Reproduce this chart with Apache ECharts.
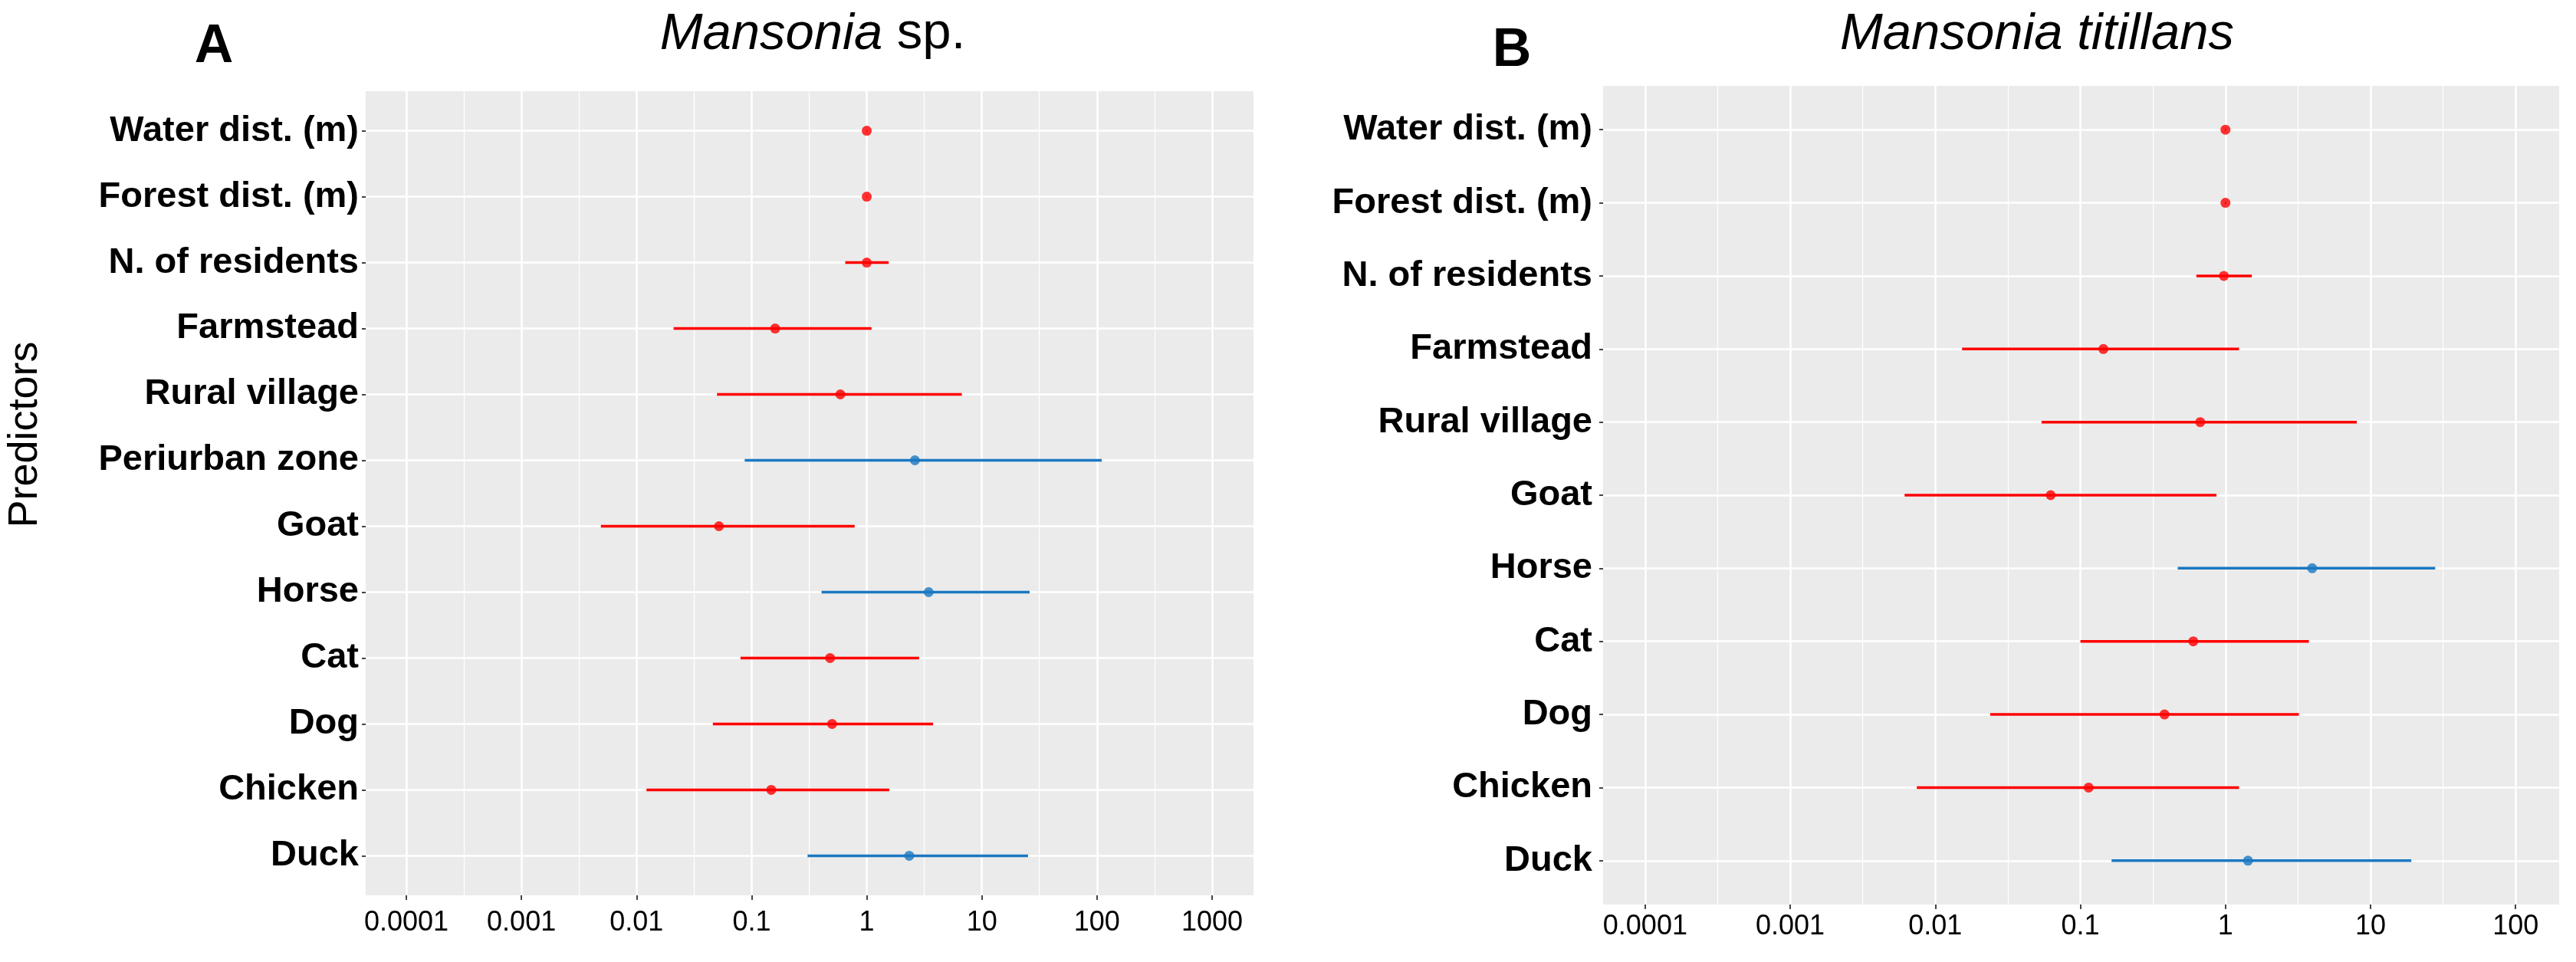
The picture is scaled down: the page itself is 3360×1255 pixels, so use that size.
<!DOCTYPE html>
<html>
<head>
<meta charset="utf-8">
<script src="https://cdn.jsdelivr.net/npm/echarts@6/dist/echarts.min.js"></script>
<style>
html,body{margin:0;padding:0;background:#fff;}
#chart{width:3360px;height:1255px;}
</style>
</head>
<body>
<div id="chart"></div>
<script>
// ---------- data ----------
const categoriesA = ['Water dist. (m)','Forest dist. (m)','N. of residents','Farmstead','Rural village','Periurban zone','Goat','Horse','Cat','Dog','Chicken','Duck'];
const oddsA  = [1.0, 1.0, 1.0, 0.16, 0.59, 2.62, 0.052, 3.45, 0.48, 0.50, 0.148, 2.34];
const lowerA = [0.99, 0.99, 0.65, 0.021, 0.05, 0.087, 0.0049, 0.405, 0.08, 0.046, 0.0122, 0.306];
const upperA = [1.01, 1.01, 1.55, 1.1, 6.7, 110, 0.785, 26, 2.85, 3.77, 1.57, 25.2];
const effectA = ['neg','neg','neg','neg','neg','pos','neg','pos','neg','neg','neg','pos'];

const categoriesB = ['Water dist. (m)','Forest dist. (m)','N. of residents','Farmstead','Rural village','Goat','Horse','Cat','Dog','Chicken','Duck'];
const oddsB  = [1.0, 1.0, 0.975, 0.144, 0.67, 0.0624, 3.96, 0.60, 0.38, 0.114, 1.43];
const lowerB = [0.99, 0.99, 0.63, 0.0153, 0.054, 0.00614, 0.469, 0.1, 0.0239, 0.00746, 0.164];
const upperB = [1.01, 1.01, 1.52, 1.24, 8.04, 0.867, 27.9, 3.76, 3.21, 1.24, 19.1];
const effectB = ['neg','neg','neg','neg','neg','neg','pos','neg','neg','neg','pos'];

const tickExponents = [-4, -3, -2, -1, 0, 1, 2, 3];
const tickLabels = ['0.0001','0.001','0.01','0.1','1','10','100','1000'];
const minorExponents = [-3.5, -2.5, -1.5, -0.5, 0.5, 1.5, 2.5];

const titleA = 'Mansonia';
const titleB = 'Mansonia titillans';
const yAxisName = 'Predictors';

// ---------- styles ----------
const FONT = 'Liberation Sans, Arial, sans-serif';
const colorOf = {neg: '#FF0000', pos: '#1B78C2'};

function buildSeries(odds, lower, upper, effect, axisIdx) {
  const barData = odds.map((_, i) => ({
    value: [Math.log10(lower[i]), Math.log10(upper[i]), i + 1],
    itemStyle: {color: colorOf[effect[i]]}
  }));
  const pointData = odds.map((v, i) => ({
    value: [Math.log10(v), i + 1],
    itemStyle: {color: colorOf[effect[i]]}
  }));
  return [
    {
      type: 'custom',
      xAxisIndex: axisIdx.x, yAxisIndex: axisIdx.y,
      encode: {x: [0, 1], y: 2},
      data: barData,
      renderItem: function (params, api) {
        const p1 = api.coord([api.value(0), api.value(2)]);
        const p2 = api.coord([api.value(1), api.value(2)]);
        return {
          type: 'line',
          shape: {x1: p1[0], y1: p1[1], x2: p2[0], y2: p2[1]},
          style: {stroke: api.visual('color'), lineWidth: 3.5}
        };
      },
      z: 3
    },
    {
      type: 'scatter',
      xAxisIndex: axisIdx.x, yAxisIndex: axisIdx.y,
      symbol: 'circle', symbolSize: 13,
      data: pointData,
      z: 4
    }
  ];
}

function mainX(grid, min, max, margin) {
  return {
    type: 'value', gridIndex: grid, min: min, max: max, position: 'bottom',
    axisLine: {show: false, onZero: false},
    axisTick: {show: true, customValues: tickExponents, length: 6, lineStyle: {color: '#444', width: 2}},
    axisLabel: {
      show: true, customValues: tickExponents, margin: margin,
      color: '#000', fontSize: 36, fontFamily: FONT,
      formatter: v => tickLabels[tickExponents.indexOf(Math.round(v))]
    },
    splitLine: {show: true, lineStyle: {color: '#FFFFFF', width: 2.5}}
  };
}
function minorX(grid, min, max) {
  return {
    type: 'value', gridIndex: grid, min: min, max: max, position: 'bottom',
    axisLine: {show: false, onZero: false},
    axisTick: {show: false, customValues: minorExponents},
    axisLabel: {show: false},
    splitLine: {show: true, lineStyle: {color: '#FFFFFF', width: 1.2}}
  };
}
function catY(grid, cats, margin) {
  const idx = cats.map((_, i) => i + 1);
  return {
    type: 'value', gridIndex: grid, min: 0.4, max: cats.length + 0.6, inverse: true, position: 'left',
    axisLine: {show: false, onZero: false},
    axisTick: {show: true, customValues: idx, length: 5, lineStyle: {color: '#444', width: 2}},
    axisLabel: {
      show: true, customValues: idx, margin: margin,
      color: '#000', fontSize: 47, fontWeight: 'bold', fontFamily: FONT,
      formatter: v => cats[Math.round(v) - 1]
    },
    splitLine: {show: true, lineStyle: {color: '#FFFFFF', width: 2.5}}
  };
}

const option = {
  animation: false,
  backgroundColor: '#FFFFFF',
  grid: [
    {left: 477, top: 119, width: 1158, height: 1049, show: true, backgroundColor: '#EBEBEB', borderWidth: 0},
    {left: 2091, top: 112, width: 1247, height: 1068, show: true, backgroundColor: '#EBEBEB', borderWidth: 0}
  ],
  xAxis: [
    mainX(0, -4.353, 3.36, 18),
    minorX(0, -4.353, 3.36),
    mainX(1, -4.29, 2.30, 11),
    minorX(1, -4.29, 2.30)
  ],
  yAxis: [
    catY(0, categoriesA, 9),
    catY(1, categoriesB, 14)
  ],
  series: [
    ...buildSeries(oddsA, lowerA, upperA, effectA, {x: 0, y: 0}),
    ...buildSeries(oddsB, lowerB, upperB, effectB, {x: 2, y: 1})
  ],
  graphic: [
    {type: 'text', x: 279, y: 62, style: {text: 'A', fontSize: 70, fontWeight: 'bold', fontFamily: FONT, fill: '#000', align: 'center', verticalAlign: 'middle'}},
    {type: 'text', x: 1972, y: 67, style: {text: 'B', fontSize: 70, fontWeight: 'bold', fontFamily: FONT, fill: '#000', align: 'center', verticalAlign: 'middle'}},
    {type: 'text', x: 1060, y: 45, style: {
      text: '{i|' + titleA + '}{n| sp.}', align: 'center', verticalAlign: 'middle', fill: '#000',
      rich: {
        i: {fontSize: 67, fontStyle: 'italic', fontFamily: FONT, fill: '#000'},
        n: {fontSize: 67, fontFamily: FONT, fill: '#000'}
      }
    }},
    {type: 'text', x: 2657, y: 45, style: {
      text: titleB, fontSize: 67, fontStyle: 'italic', fontFamily: FONT, fill: '#000', align: 'center', verticalAlign: 'middle'
    }},
    {type: 'text', x: 33, y: 567, rotation: Math.PI / 2, style: {
      text: yAxisName, fontSize: 54, fontFamily: FONT, fill: '#000', align: 'center', verticalAlign: 'middle'
    }}
  ]
};

const chart = echarts.init(document.getElementById('chart'), null, {renderer: 'canvas'});
chart.setOption(option);
</script>
</body>
</html>
